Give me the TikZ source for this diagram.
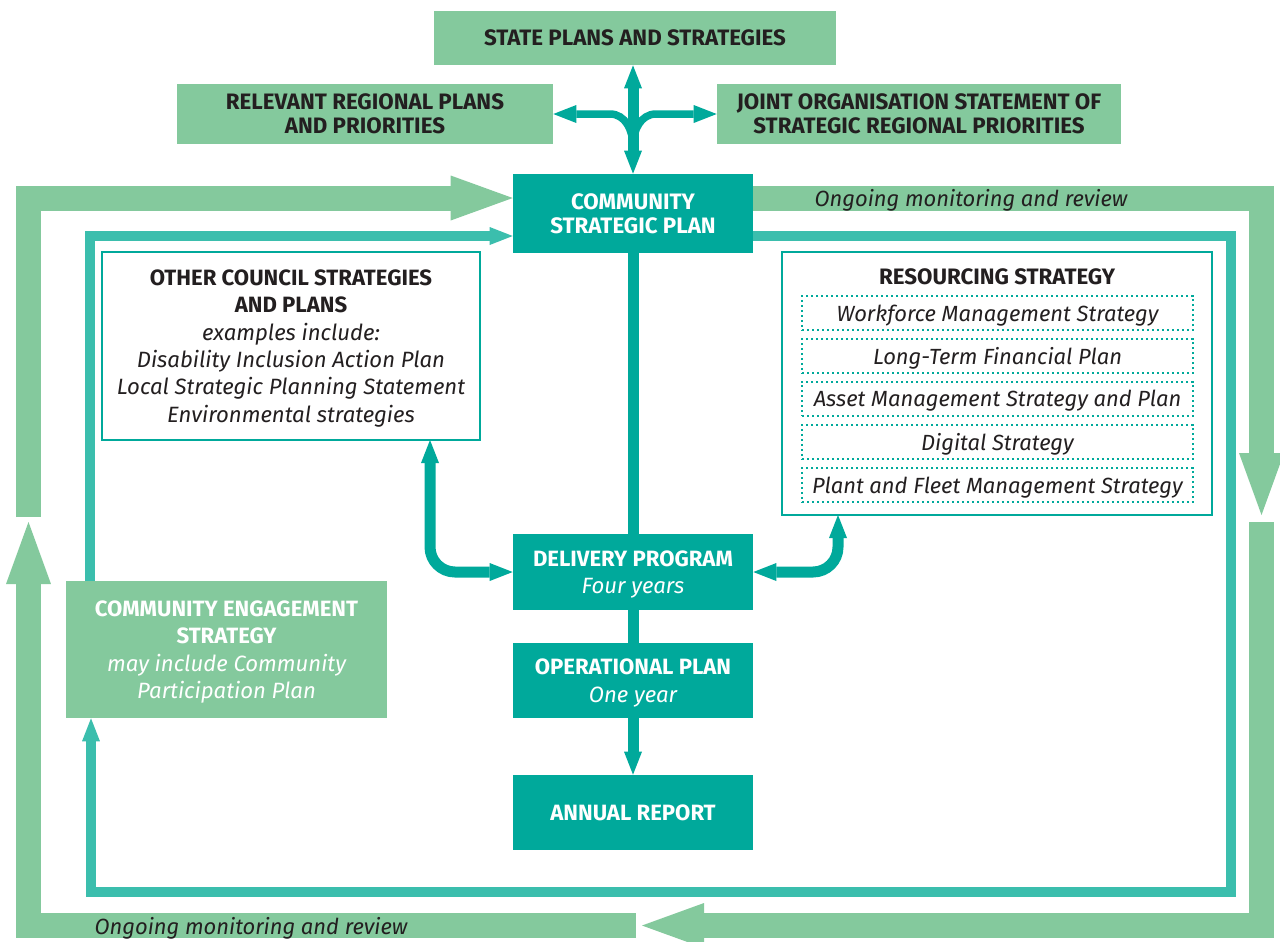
\documentclass[tikz,border=0pt]{standalone}
\usepackage{fontspec}
\setmainfont{Fira Sans}
\usetikzlibrary{arrows.meta}
\definecolor{lgreen}{HTML}{84C99D}
\definecolor{dteal}{HTML}{00A99B}
\definecolor{mteal}{HTML}{3BBEAD}
\definecolor{ink}{HTML}{231F20}
\newcommand\headfont{\fontsize{12.7}{13.6}\selectfont\bfseries}
\newcommand\bodyfont{\fontsize{12.6}{15.6}\selectfont}
\newcommand\notefont{\fontsize{12.5}{15.6}\selectfont\itshape}

\tikzset{
  stemtip/.tip={Triangle[length=0.46cm,width=0.36cm,line width=0pt]},
  greenbox/.style={fill=lgreen, text=ink, font=\headfont, align=center, inner sep=0pt, text depth=0pt},
  tealbox/.style={fill=dteal, text=white, font=\bodyfont\bfseries, align=center, inner sep=0pt, text depth=0pt, minimum width=4.8cm},
  framebox/.style={draw=dteal, line width=0.05cm, fill=white, text=ink, font=\bodyfont, align=center, inner sep=0pt, text depth=0pt},
  listbox/.style={draw=dteal, line width=0.04cm, dash pattern=on 0.04cm off 0.06cm, minimum width=7.82cm, minimum height=0.68cm, inner sep=0pt, text depth=0pt, text=ink, font=\notefont},
  note/.style={font=\notefont, text=ink, text depth=0pt},
  band/.style={draw=lgreen, line width=0.5cm, -{Triangle[length=1.24cm,width=0.9cm,line width=0pt]}},
  loopline/.style={draw=mteal, line width=0.21cm, -{stemtip}},
  link/.style={draw=dteal, line width=0.22cm},
  branch/.style={draw=dteal, line width=0.15cm, -{stemtip}},
}

\begin{document}
\begin{tikzpicture}[x=0.02cm, y=-0.02cm]
\fill[white] (0,0) rectangle (1280,941);
\useasboundingbox (0,0) rectangle (1280,941);

\node[greenbox, minimum width=8.04cm, minimum height=1.08cm] (state) at (635,38) {STATE PLANS AND STRATEGIES};
\node[greenbox, minimum width=7.52cm, minimum height=1.2cm] (regional) at (365,114) {RELEVANT REGIONAL PLANS\\AND PRIORITIES};
\node[greenbox, minimum width=8.08cm, minimum height=1.2cm] (joint) at (919,114) {JOINT ORGANISATION STATEMENT OF\\STRATEGIC REGIONAL PRIORITIES};
\node[tealbox, font=\headfont, minimum height=1.58cm] (csp) at (633,213.5) {COMMUNITY\\STRATEGIC PLAN};

\node[framebox, minimum width=7.56cm, minimum height=3.76cm] (other) at (291,346) {{\bfseries OTHER COUNCIL STRATEGIES}\\{\bfseries AND PLANS}\\{\itshape examples include:}\\{\itshape Disability Inclusion Action Plan}\\{\itshape Local Strategic Planning Statement}\\{\itshape Environmental strategies}};

\node[framebox, minimum width=8.6cm, minimum height=5.26cm] (res) at (997,383.5) {};
\node[font=\headfont, text=ink] (restitle) at (997,277) {RESOURCING STRATEGY};
\node[listbox] (workforce) at (997.5,313) {Workforce Management Strategy};
\node[listbox] (finance) at (997.5,356) {Long-Term Financial Plan};
\node[listbox] (asset) at (997.5,398.5) {Asset Management Strategy and Plan};
\node[listbox] (digital) at (997.5,442) {Digital Strategy};
\node[listbox] (fleet) at (997.5,485) {Plant and Fleet Management Strategy};

\node[tealbox, minimum height=1.52cm] (dp) at (633,572) {DELIVERY PROGRAM\\{\mdseries\itshape Four years}};
\node[tealbox, minimum height=1.5cm] (op) at (633,680.5) {OPERATIONAL PLAN\\{\mdseries\itshape One year}};
\node[tealbox, minimum height=1.5cm] (ar) at (633,812.5) {ANNUAL REPORT};

\node[greenbox, text=white, font=\bodyfont\bfseries, minimum width=6.42cm, minimum height=2.74cm] (ce) at (226.5,649.5) {COMMUNITY ENGAGEMENT\\STRATEGY\\{\mdseries\itshape may include Community}\\{\mdseries\itshape Participation Plan}};

\coordinate (oA) at (28.5,517);
\coordinate (oTL) at (28.5,198);
\coordinate (oTR) at (1261.5,198);
\coordinate (oB) at (1261.5,515);
\coordinate (oC) at (1261.5,522);
\coordinate (oBR) at (1261.5,925.5);
\coordinate (oCend) at (642,925.5);
\coordinate (oD) at (636,925.5);
\coordinate (oBL) at (28.5,925.5);
\coordinate (oDend) at (28.5,522);
\draw[band] (oA) -- (oTL) -- (oTL -| csp.west);
\draw[band] (oTR -| csp.east) -- (oTR) -- (oB);
\draw[band] (oC) -- (oBR) -- (oCend);
\draw[band] (oD) -- (oBL) -- (oDend);
\node[note] (reviewtop) at (971,198) {Ongoing monitoring and review};
\node[note] (reviewbottom) at (251,926) {Ongoing monitoring and review};

\coordinate (iTL) at (90,236);
\coordinate (iTR) at (1231,236);
\coordinate (iBR) at (1231,892);
\coordinate (iBL) at (91,892);
\draw[loopline] (iTL |- ce.north) -- (iTL) -- (iTL -| csp.west);
\draw[loopline] (iTR -| csp.east) -- (iTR) -- (iBR) -- (iBL) -- (iBL |- ce.south);

\draw[link] (csp.south) -- (dp.north);
\draw[link] (dp.south) -- (op.north);
\draw[link, -{stemtip}] (op.south) -- (ar.north);
\draw[link, {stemtip}-{stemtip}] (csp.north) -- (csp.north |- state.south);
\coordinate (hub) at (633,146);
\coordinate (hubL) at (610,114);
\coordinate (hubR) at (656,114);
\draw[branch] (hub) to[out=90,in=0] (hubL) -- (regional.east);
\draw[branch] (hub) to[out=90,in=180] (hubR) -- (joint.west);

\coordinate (otherfoot) at (430,440);
\coordinate (resfoot) at (838,515);
\draw[link, rounded corners=0.5cm, {stemtip}-{stemtip}] (otherfoot) |- (dp.west);
\draw[link, rounded corners=0.5cm, {stemtip}-{stemtip}] (dp.east) -| (resfoot);
\end{tikzpicture}
\end{document}
